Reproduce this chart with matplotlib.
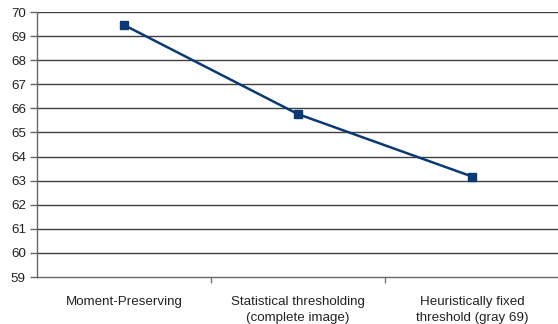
import matplotlib
matplotlib.use("Agg")
import matplotlib.pyplot as plt
from matplotlib.ticker import FixedLocator, NullFormatter

plt.rcParams['font.family'] = ['Liberation Sans', 'DejaVu Sans']

categories = ["Moment-Preserving",
              "Statistical thresholding\n(complete image)",
              "Heuristically fixed\nthreshold (gray 69)"]
values = [69.46, 65.76, 63.17]
y_ticks = list(range(59, 71))

fig = plt.figure(figsize=(5.58, 3.24), dpi=100)
ax = fig.add_axes([37 / 558, 1 - 277 / 324, 1 - 37 / 558 + 0.002, (277 - 12) / 324])

x = list(range(len(categories)))
ax.set_xlim(-0.5, len(categories) - 0.5)
ax.set_ylim(59, 70)

for v in y_ticks[1:]:
    ax.axhline(v, color='#404040', lw=1.0, zorder=1)

ax.plot(x, values, color='#0b3a72', lw=1.8, marker='s', markersize=5.5,
        markerfacecolor='#0b3a72', markeredgecolor='#0b3a72', zorder=3)

ax.set_yticks(y_ticks)
ax.set_yticklabels([str(v) for v in y_ticks])
ax.set_xticks(x)
ax.set_xticklabels(categories, linespacing=1.45)
ax.xaxis.set_minor_locator(FixedLocator([0.5, 1.5]))
ax.xaxis.set_minor_formatter(NullFormatter())

ax.tick_params(axis='x', which='major', length=0, pad=14, labelsize=9.6,
               labelcolor='#222222')
ax.tick_params(axis='x', which='minor', length=4, width=1, color='#777777',
               direction='out')
ax.tick_params(axis='y', length=5, width=1, color='#666666', pad=3,
               labelsize=9.6, labelcolor='#222222')

for side in ('top', 'right'):
    ax.spines[side].set_visible(False)
ax.spines['left'].set_color('#666666')
ax.spines['bottom'].set_color('#666666')
ax.spines['left'].set_linewidth(1.0)
ax.spines['bottom'].set_linewidth(1.0)

fig.savefig('out.png', dpi=100)
